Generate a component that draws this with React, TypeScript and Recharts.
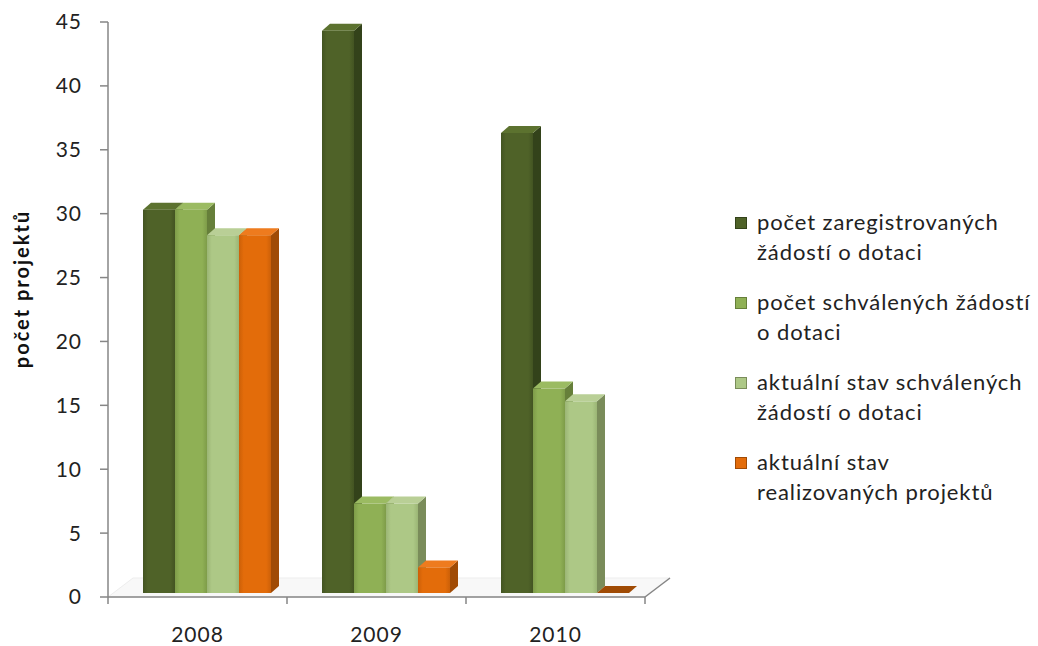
import React from 'react';
import { BarChart, Bar, XAxis, YAxis, Legend, Label, Customized } from 'recharts';

const years = ['2008', '2009', '2010'];
const registered = [30, 44, 36];
const approved = [30, 7, 16];
const approvedCurrent = [28, 7, 15];
const realized = [28, 2, 0];
const seriesNames = [
  'počet zaregistrovaných\nžádostí o dotaci',
  'počet schválených žádostí\no dotaci',
  'aktuální stav schválených\nžádostí o dotaci',
  'aktuální stav\nrealizovaných projektů',
];
const yTicks = [0, 5, 10, 15, 20, 25, 30, 35, 40, 45];
const yTitle = 'počet projektů';

const data = years.map((y, i) => ({
  year: y,
  s0: registered[i],
  s1: approved[i],
  s2: approvedCurrent[i],
  s3: realized[i],
}));

const W = 1038;
const H = 646;
const PL = 108; // plot left
const PR = 645; // plot right
const PT = 22; // plot top
const PB = 597; // plot bottom
const FONT = 'Lato, "Open Sans", sans-serif';

const palette = [
  { front: '#4F6228', edge: '#435422', side: '#33421A', top: '#5C722F' },
  { front: '#8FB055', edge: '#7E9C49', side: '#667F3A', top: '#9BBB62' },
  { front: '#ADC886', edge: '#9BB575', side: '#7A8C5A', top: '#B9CF96' },
  { front: '#E36C0A', edge: '#CC6008', side: '#A04B05', top: '#EE7B1E' },
];

const makeShape = (idx: number) => (props: any) => {
  const { x, y, width, height } = props;
  const c = palette[idx];
  const dx = 8;
  const dy = 7;
  const X = x + 9;
  const Y = y - 4;
  const Wd = width;
  const Hd = Math.max(0, height);
  return (
    <g>
      <polygon
        points={`${X + Wd},${Y} ${X + Wd + dx},${Y - dy} ${X + Wd + dx},${Y + Hd - dy} ${X + Wd},${Y + Hd}`}
        fill={c.side}
      />
      <polygon
        points={`${X},${Y} ${X + dx},${Y - dy} ${X + Wd + dx},${Y - dy} ${X + Wd},${Y}`}
        fill={Hd === 0 ? c.side : c.top}
      />
      {Hd > 0 && <rect x={X} y={Y} width={Wd} height={Hd} fill={`url(#g${idx})`} />}
    </g>
  );
};

const Floor = () => {
  const L = PL;
  const R = PR;
  const B = PB;
  const bx = 25;
  const by = 19;
  const n = years.length;
  const ticks = Array.from({ length: n + 1 }, (_, i) => L + (i * (R - L)) / n);
  return (
    <g>
      <defs>
        {palette.map((c, i) => (
          <linearGradient key={i} id={`g${i}`} x1="0" y1="0" x2="1" y2="0">
            <stop offset="0%" stopColor={c.edge} />
            <stop offset="15%" stopColor={c.front} />
            <stop offset="85%" stopColor={c.front} />
            <stop offset="100%" stopColor={c.edge} />
          </linearGradient>
        ))}
      </defs>
      <polygon
        points={`${L},${B} ${R},${B} ${R + bx},${B - by} ${L + bx},${B - by}`}
        fill="#F8F8F8"
        stroke="#EDEDED"
      />
      <line x1={R} y1={B} x2={R + bx} y2={B - by} stroke="#868686" strokeWidth={1.5} />
      <line x1={L} y1={B} x2={R} y2={B} stroke="#868686" strokeWidth={1.5} />
      {ticks.map((t, i) => (
        <line key={i} x1={t} y1={B} x2={t} y2={B + 7} stroke="#868686" strokeWidth={1.5} />
      ))}
    </g>
  );
};

const LegendContent = (props: any) => {
  const payload = [...(props.payload || [])].sort((a: any, b: any) =>
    String(a.dataKey).localeCompare(String(b.dataKey))
  );
  return (
    <div style={{ fontFamily: FONT, fontSize: 22, letterSpacing: 0.9, color: '#222', lineHeight: '30px' }}>
      {payload.map((p: any, i: number) => {
        const idx = Number(String(p.dataKey).slice(1));
        return (
          <div
            key={i}
            style={{ display: 'flex', alignItems: 'flex-start', marginBottom: i < payload.length - 1 ? 20 : 0 }}
          >
            <div
              style={{
                width: 12,
                height: 12,
                marginTop: 10,
                marginRight: 10,
                background: palette[idx].front,
                border: `1px solid ${palette[idx].side}`,
                boxSizing: 'border-box',
                flex: 'none',
              }}
            />
            <div style={{ whiteSpace: 'pre' }}>{p.value}</div>
          </div>
        );
      })}
    </div>
  );
};

const YTitle = () => (
  <text
    x={21}
    y={289}
    transform="rotate(-90 21 289)"
    textAnchor="middle"
    dominantBaseline="central"
    style={{ fontFamily: FONT, fontSize: 20, fontWeight: 700, letterSpacing: 2, fill: '#111' }}
  >
    {yTitle}
  </text>
);

export default function App() {
  return (
    <div style={{ position: 'absolute', left: 0, top: 0, width: W, height: H, background: '#fff' }}>
      <BarChart
        width={W}
        height={H}
        data={data}
        margin={{ top: PT, right: W - PR, bottom: 0, left: 0 }}
        barSize={32}
        barGap={0}
      >
        <Customized component={<Floor />} />
        <XAxis
          dataKey="year"
          axisLine={false}
          tickLine={false}
          height={H - PB}
          tick={{ fontFamily: FONT, fontSize: 21, letterSpacing: 1, fill: '#222' }}
          tickMargin={24}
        />
        <YAxis
          domain={[0, 45]}
          ticks={yTicks}
          interval={0}
          axisLine={{ stroke: '#868686', strokeWidth: 1.5 }}
          tickLine={{ stroke: '#868686', strokeWidth: 1.5 }}
          tickSize={8}
          tickMargin={18}
          tick={{ fontFamily: FONT, fontSize: 21, letterSpacing: 1, fill: '#222' }}
          width={PL}
        >
          <Label content={<YTitle />} />
        </YAxis>
        <Legend
          layout="vertical"
          align="center"
          verticalAlign="middle"
          content={<LegendContent />}
          wrapperStyle={{ position: 'absolute', left: 735, top: 207, width: 300 }}
        />
        <Bar dataKey="s0" name={seriesNames[0]} fill={palette[0].front} shape={makeShape(0)} isAnimationActive={false} />
        <Bar dataKey="s1" name={seriesNames[1]} fill={palette[1].front} shape={makeShape(1)} isAnimationActive={false} />
        <Bar dataKey="s2" name={seriesNames[2]} fill={palette[2].front} shape={makeShape(2)} isAnimationActive={false} />
        <Bar dataKey="s3" name={seriesNames[3]} fill={palette[3].front} shape={makeShape(3)} isAnimationActive={false} />
      </BarChart>
    </div>
  );
}
